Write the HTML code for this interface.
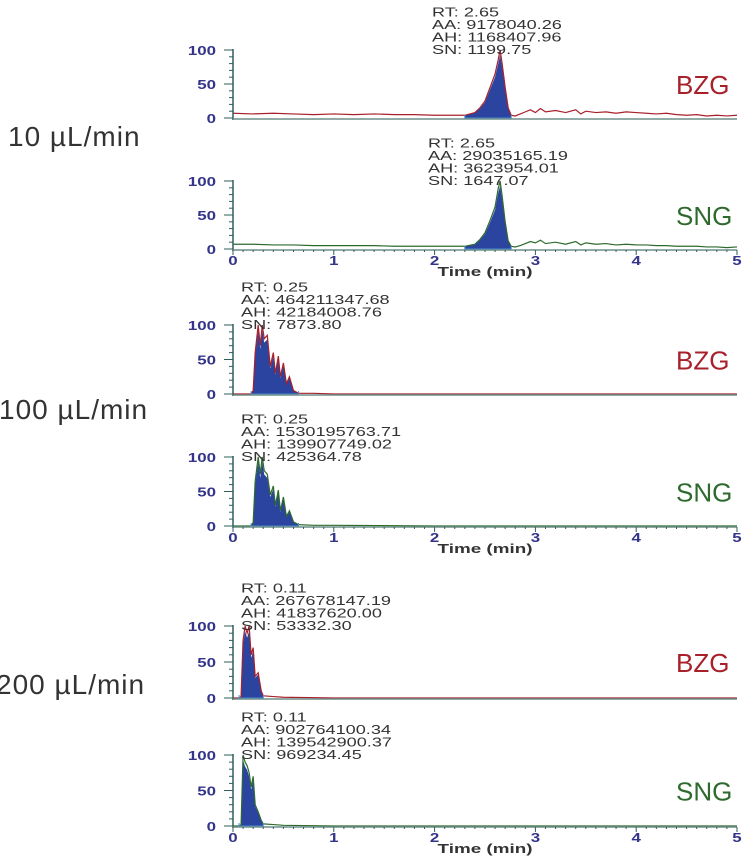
<!DOCTYPE html>
<html><head><meta charset="utf-8"><style>
body{margin:0;background:#fff;}
svg{display:block;font-family:"Liberation Sans",sans-serif;}
</style></head><body>
<svg id="chart" width="750" height="858" viewBox="0 0 750 858"></svg>
<script>
// ---- data ----
const T10 = [0,0.2,0.4,0.6,0.8,1.0,1.2,1.4,1.6,1.8,2.0,2.2,2.3,2.4,2.45,2.5,2.55,2.6,2.63,2.65,2.67,2.7,2.73,2.76,2.8,2.85,2.9,2.95,3.0,3.05,3.1,3.2,3.3,3.4,3.45,3.5,3.6,3.7,3.8,3.9,4.0,4.1,4.2,4.3,4.4,4.5,4.6,4.7,4.8,4.9,5.0];
const bzg10 = [7,6,7,6,5,6,5,6,5,5,4,4,4,8,15,25,45,65,85,100,80,45,15,4,3,6,9,12,8,14,9,11,8,12,6,10,8,9,7,9,8,7,6,7,5,4,5,3,4,3,4];
const sng10 = [7,7,6,6,5,5,5,5,4,4,4,4,4,7,14,24,42,62,88,100,78,40,12,4,3,5,8,11,9,13,8,10,7,11,6,9,7,8,6,7,6,6,5,5,4,4,4,3,3,2,3];
const T100 = [0,0.1,0.18,0.2,0.22,0.25,0.27,0.29,0.31,0.34,0.37,0.4,0.42,0.45,0.47,0.5,0.53,0.56,0.6,0.65,0.8,1,2,3,4,5];
const bzg100 = [0,0,0,5,60,100,70,100,80,85,40,60,30,55,25,45,15,25,5,1,1,0,0,0,0,0];
const sng100 = [0,0,0,5,65,100,75,100,80,75,45,58,30,52,22,42,14,22,6,2,1,1,0,0,0,0];
const T200 = [0,0.06,0.08,0.1,0.12,0.14,0.16,0.18,0.2,0.22,0.25,0.28,0.3,0.4,0.5,1,5];
const bzg200 = [0,0,2,80,100,90,100,60,70,30,35,10,3,2,1,0,0];
const sng200 = [0,0,2,100,90,85,75,55,70,30,20,8,3,2,1,0,0];
const xTicks = [0,1,2,3,4,5];
const yTicks = [0,50,100];

const panels = [
 {name:'bzg-10',T:T10,V:bzg10,y100:50,y0:118,col:'#a8202a',label:'BZG',fill:[2.3,2.76],ann:['RT: 2.65','AA: 9178040.26','AH: 1168407.96','SN: 1199.75'],ax:432,axis:false},
 {name:'sng-10',T:T10,V:sng10,y100:181,y0:249,col:'#2e6a2e',label:'SNG',fill:[2.3,2.76],ann:['RT: 2.65','AA: 29035165.19','AH: 3623954.01','SN: 1647.07'],ax:428,axis:true},
 {name:'bzg-100',T:T100,V:bzg100,y100:325,y0:394,col:'#a8202a',label:'BZG',fill:[0.18,0.65],ann:['RT: 0.25','AA: 464211347.68','AH: 42184008.76','SN: 7873.80'],ax:241,axis:false},
 {name:'sng-100',T:T100,V:sng100,y100:457,y0:526,col:'#2e6a2e',label:'SNG',fill:[0.18,0.65],ann:['RT: 0.25','AA: 1530195763.71','AH: 139907749.02','SN: 425364.78'],ax:241,axis:true},
 {name:'bzg-200',T:T200,V:bzg200,y100:626,y0:698,col:'#a8202a',label:'BZG',fill:[0.06,0.3],ann:['RT: 0.11','AA: 267678147.19','AH: 41837620.00','SN: 53332.30'],ax:241,axis:false},
 {name:'sng-200',T:T200,V:sng200,y100:755,y0:826,col:'#2e6a2e',label:'SNG',fill:[0.06,0.3],ann:['RT: 0.11','AA: 902764100.34','AH: 139542900.37','SN: 969234.45'],ax:241,axis:true}
];

const NS='http://www.w3.org/2000/svg';
const svg=document.getElementById('chart');
const X0=233,X1=737;
function xs(t){return X0+(X1-X0)*t/5;}
function mk(tag,attrs,parent){const e=document.createElementNS(NS,tag);for(const k in attrs)e.setAttribute(k,attrs[k]);(parent||svg).appendChild(e);return e;}

[['10 µL/min',8,146],['100 µL/min',-1,419],['200 µL/min',-4,694]].forEach((f,i)=>{
  const t=mk('text',{x:f[1],y:f[2],'font-size':28,fill:'#333','letter-spacing':'1'});
  
  
  t.textContent=f[0];
});

panels.forEach(p=>{
  const g=mk('g',{});
  
  
  const ys=v=>p.y0-(p.y0-p.y100)*v/100;
  let pts=[];
  for(let i=0;i<p.T.length;i++){ if(p.T[i]>=p.fill[0]&&p.T[i]<=p.fill[1]) pts.push([xs(p.T[i]),ys(p.V[i]*0.93)]); }
  let d='M'+xs(p.fill[0])+','+p.y0+' '+pts.map(q=>'L'+q[0]+','+q[1]).join(' ')+' L'+xs(p.fill[1])+','+p.y0+'Z';
  const area=mk('path',{d:d,fill:'#2b44a0'},g);
  
  
  const line=mk('polyline',{points:p.T.map((t,i)=>xs(t)+','+ys(p.V[i])).join(' '),fill:'none',stroke:p.col,'stroke-width':1.2},g);
  
  
  const bm=mk('path',{d:'M'+xs(p.fill[0])+','+(p.y0-3)+' V'+p.y0+' H'+xs(p.fill[1])+' V'+(p.y0-3),fill:'none',stroke:'#4a8ad0','stroke-width':1},g);
  
  
  const ya=mk('line',{x1:X0,y1:p.y100-1,x2:X0,y2:p.y0+2,stroke:'#2f5f5a','stroke-width':1.5},g);
  
  
  for(let v=0;v<=100;v+=10){
    const big=v%50===0;
    mk('line',{x1:X0-(big?9:4),y1:ys(v),x2:X0,y2:ys(v),stroke:'#2f5f5a','stroke-width':1},g);
  }
  yTicks.forEach(v=>{
    const t=mk('text',{x:0,y:0,'font-size':13,'font-weight':'bold','text-anchor':'end',fill:'#34348a',transform:'translate(216,'+(ys(v)+5)+') scale(1.3,1)'},g);
    
    
    t.textContent=v;
  });
  const xa=mk('line',{x1:X0,y1:p.y0+1,x2:X1,y2:p.y0+1,stroke:'#6f8f8a','stroke-width':1.5},g);
  
  
  if(p.axis){
    for(let k=0;k<=50;k++){
      const big=k%10===0;
      mk('line',{x1:xs(k/10),y1:p.y0+1,x2:xs(k/10),y2:p.y0+(big?6:3),stroke:'#2f5f5a','stroke-width':1},g);
    }
    xTicks.forEach(v=>{
      const t=mk('text',{x:0,y:0,'font-size':13,'font-weight':'bold','text-anchor':'middle',fill:'#34348a',transform:'translate('+xs(v)+','+(p.y0+16)+') scale(1.3,1)'},g);
      
      
      t.textContent=v;
    });
    const xt=mk('text',{x:0,y:0,'font-size':13,'font-weight':'bold','text-anchor':'middle',fill:'#333',transform:'translate(485,'+(p.y0+27)+') scale(1.45,1)'},g);
    
    
    xt.textContent='Time (min)';
  }
  p.ann.forEach((s,i)=>{
    const t=mk('text',{x:0,y:0,'font-size':12.5,fill:'#333',transform:'translate('+p.ax+','+(p.y100+4-(3-i)*12.5)+') scale(1.45,1)'},g);
    
    
    t.textContent=s;
  });
  const lb=mk('text',{x:676,y:(p.y100+p.y0)/2+10,'font-size':26,fill:p.col},g);
  
  
  lb.textContent=p.label;
});
</script>
</body></html>
